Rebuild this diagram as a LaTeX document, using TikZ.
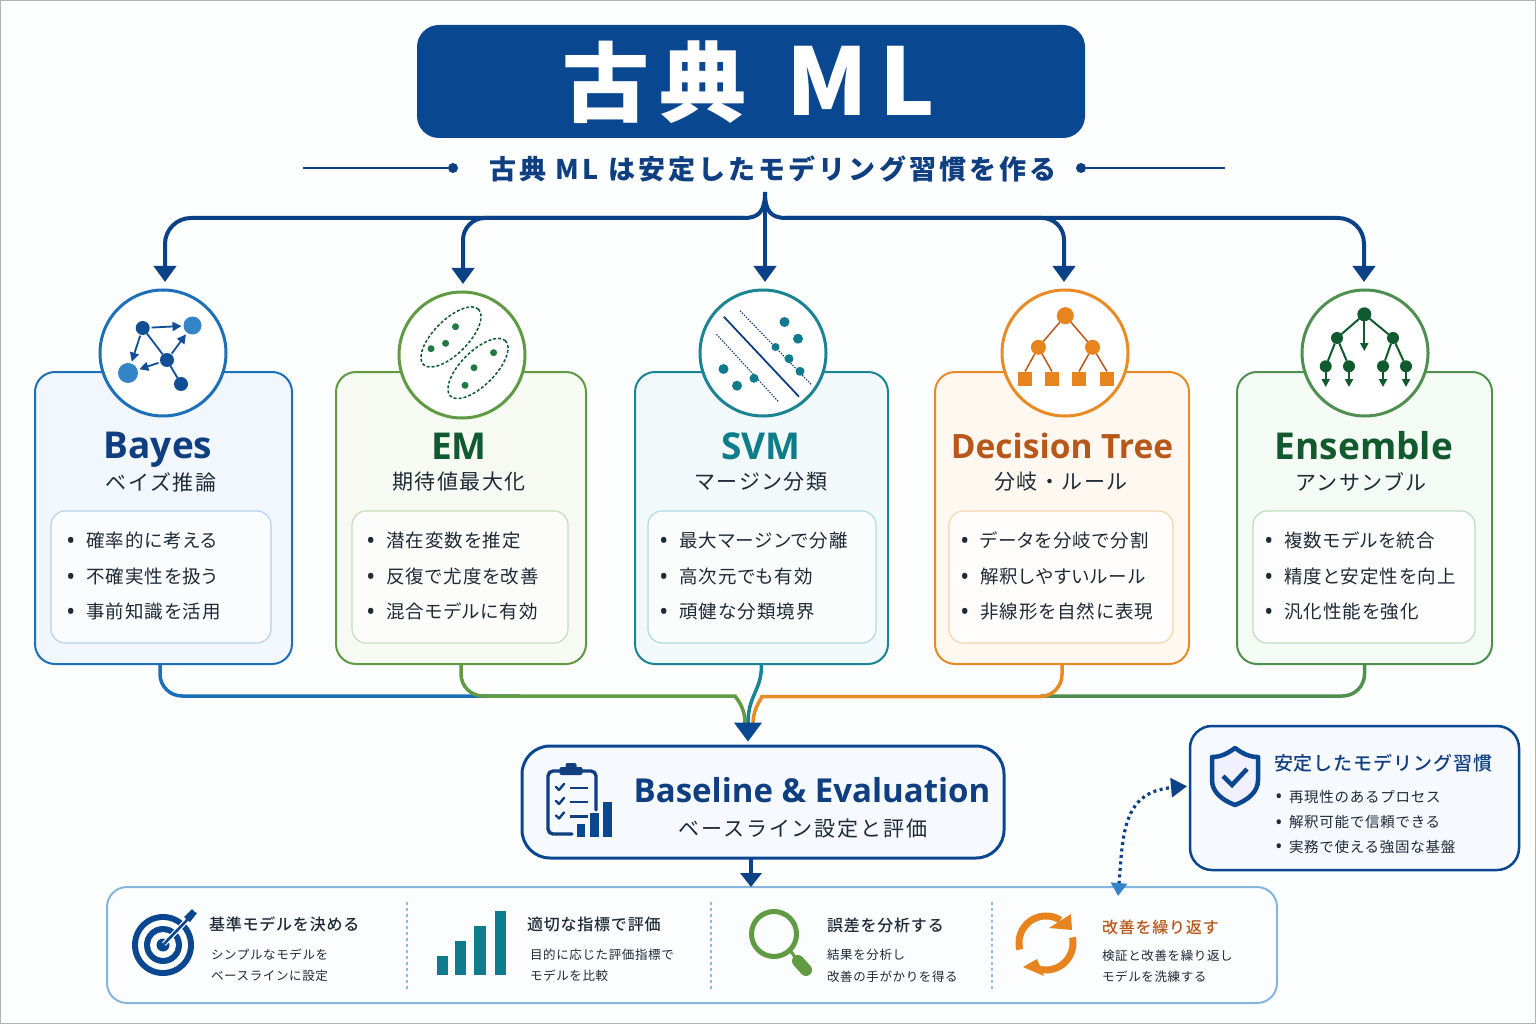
\documentclass[tikz,border=0pt]{standalone}
\usepackage{fontspec}
\usetikzlibrary{arrows.meta,shapes.geometric}
\setmainfont{Noto Sans CJK JP}
\newfontfamily\lat{Open Sans}
\newfontfamily\jpm{Noto Sans CJK JP Medium}
\newcommand\FS[2]{\fontsize{#1}{#1}\selectfont\addfontfeature{LetterSpace=#2}}
\newcommand\FP[2]{\fontsize{#1}{#1}\selectfont\addfontfeature{LetterSpace=#2,RawFeature=+palt}}
\definecolor{navy}{HTML}{0A4791}
\definecolor{tline}{HTML}{0B4186}
\definecolor{ink}{HTML}{0F3F80}
\definecolor{txt}{HTML}{1F2A37}
\definecolor{basef}{HTML}{F6F9FD}
\definecolor{aline}{HTML}{1C70BA}\definecolor{afill}{HTML}{F2F7FD}\definecolor{athin}{HTML}{B5D2EE}\definecolor{ahead}{HTML}{0F3F80}
\definecolor{bline}{HTML}{609A42}\definecolor{bfill}{HTML}{F6FAF3}\definecolor{bthin}{HTML}{C6DEB8}\definecolor{bhead}{HTML}{0F5A30}
\definecolor{cline}{HTML}{1A8494}\definecolor{cfill}{HTML}{F1F9FA}\definecolor{cthin}{HTML}{AEDBE0}\definecolor{chead}{HTML}{0F7C8A}
\definecolor{dline}{HTML}{E88B25}\definecolor{dfill}{HTML}{FEF8F1}\definecolor{dthin}{HTML}{F6D5AC}\definecolor{dhead}{HTML}{B8571A}
\definecolor{eline}{HTML}{4F8F50}\definecolor{efill}{HTML}{F4FAF4}\definecolor{ethin}{HTML}{BCDDC0}\definecolor{ehead}{HTML}{125A2E}
\definecolor{dkblue}{HTML}{114E96}\definecolor{ltblue}{HTML}{3485C8}
\definecolor{grn}{HTML}{1E7A3E}\definecolor{dkgrn}{HTML}{0F5A2E}
\definecolor{teal}{HTML}{0E7C8C}\definecolor{org}{HTML}{E8841E}
\definecolor{pagebg}{HTML}{FDFEFE}
\tikzset{
  x=1pt,y=-1pt,
  plain/.style={inner sep=0,outer sep=0},
  cardbox/.style={plain,rectangle,draw,line width=2pt,rounded corners=20pt,minimum height=292pt},
  innerbox/.style={plain,rectangle,draw,line width=1.2pt,fill=white,fill opacity=.75,rounded corners=14pt,minimum height=132pt},
  ring/.style={plain,circle,draw,line width=3pt,fill=white,minimum size=126pt},
  bigname/.style={plain,anchor=base,font=\lat\bfseries\FS{37}{0}},
  jsub/.style={plain,text=txt,font=\FS{21}{7}},
  bul/.style={plain,anchor=west,text=txt,font=\FP{18.5}{6}},
  dotnode/.style={plain,circle,fill,minimum size=#1},
  topline/.style={draw=tline,line width=4pt},
  toparrow/.style={topline,-{Triangle[width=22pt,length=16pt]},shorten >=8pt},
  mline/.style={line width=3.5pt},
  thin/.style={plain,anchor=west,text=txt,font=\FS{12.5}{5}},
  itemhead/.style={plain,anchor=west,text=txt,font=\jpm\FS{16}{5}},
  sep/.style={draw=ltblue!55,line width=1.2pt,dash pattern=on 3pt off 3pt},
  emell/.style={plain,ellipse,draw=dkgrn,line width=1.5pt,dash pattern=on 3pt off 2pt,minimum width=78pt,minimum height=34pt,rotate=45},
  iconarrow/.style={-{Triangle[width=9pt,length=9pt]}},
}
\newcommand\Dot{\raisebox{-1.8pt}{\makebox[0pt][l]{\lat\fontsize{25}{25}\selectfont •}}}
\newcommand\Card[7]{% key, card cx, w, inner cx, inner w, ring cx, ring cy
  \node[cardbox,draw=#1line,fill=#1fill,minimum width=#3 pt] (#1card) at (#2,518) {};
  \node[ring,draw=#1line] (#1ring) at (#6,#7) {};
  \node[innerbox,draw=#1thin,minimum width=#5 pt] (#1in) at (#4,577) {};
}
\newcommand\Bul[5]{% key, x, t1, t2, t3
  \node[bul] (#1b1) at (#2,541) {\makebox[20pt][l]{\Dot}#3};
  \node[bul] (#1b2) at (#2,577) {\makebox[20pt][l]{\Dot}#4};
  \node[bul] (#1b3) at (#2,612) {\makebox[20pt][l]{\Dot}#5};
}
\begin{document}
\begin{tikzpicture}
\useasboundingbox (0,0) rectangle (1536,1024);
\fill[pagebg] (0,0) rectangle (1536,1024);
\draw[black!30,line width=1.5pt] (0,0) rectangle (1536,1024);

% header
\node[plain,rectangle,fill=navy,rounded corners=22pt,minimum width=668pt,minimum height=113pt] (hdr) at (751,81.5) {};
\node[plain,text=white,font=\bfseries\FS{87}{12}] (ttl) at (748.5,82) {古典\hspace{40pt}{\FS{93}{12}ML}};
\node[plain,text=ink,font=\bfseries\FS{27}{11.5}] (sub) at (773,169) {古典 ML は安定したモデリング習慣を作る};
\coordinate (ll) at (303,168); \coordinate (rr) at (1225,168);
\node[dotnode=10pt,fill=ink] (dl) at (453,168) {};
\node[dotnode=10pt,fill=ink] (dr) at (1081,168) {};
\draw[ink,line width=1.2pt] (ll)--(dl);
\draw[ink,line width=1.2pt] (dr)--(rr);

% cards
\Card{a}{163.5}{257}{161}{220}{163}{353}
\Card{b}{461}{250}{460}{216}{462}{355}
\Card{c}{761.5}{253}{762}{228}{763}{353}
\Card{d}{1062}{254}{1061}{224}{1065}{353}
\Card{e}{1364.5}{255}{1364}{222}{1365}{353}

\node[bigname,text=ahead] (an) at (158,458) {Bayes};
\node[bigname,text=bhead] (bn) at (459,459) {EM};
\node[bigname,text=chead] (cn) at (761,459) {SVM};
\node[bigname,text=dhead,font=\lat\bfseries\FS{33.5}{0}] (dn) at (1062,458) {Decision Tree};
\node[bigname,text=ehead] (en) at (1364,459) {Ensemble};
\node[jsub] (as) at (161,482) {ベイズ推論};
\node[jsub] (bs) at (459,482) {期待値最大化};
\node[jsub] (cs) at (761,482) {マージン分類};
\node[jsub] (ds) at (1061,482) {分岐・ルール};
\node[jsub] (es) at (1361,482) {アンサンブル};
\Bul{a}{66}{確率的に考える}{不確実性を扱う}{事前知識を活用}
\Bul{b}{366}{潜在変数を推定}{反復で尤度を改善}{混合モデルに有効}
\Bul{c}{659}{最大マージンで分離}{高次元でも有効}{頑健な分類境界}
\Bul{d}{960}{データを分岐で分割}{解釈しやすいルール}{非線形を自然に表現}
\Bul{e}{1264}{複数モデルを統合}{精度と安定性を向上}{汎化性能を強化}

% top connectors
\coordinate (hub) at (765,192);
\coordinate (hubL) at (744,218);
\coordinate (hubR) at (786,218);
\draw[topline] (hub) .. controls (765,210) and (760,218) .. (hubL);
\draw[topline] (hub) .. controls (765,210) and (770,218) .. (hubR);
\draw[toparrow,rounded corners=26pt] (hubL) -| ([xshift=2pt]aring.north);
\draw[toparrow,rounded corners=22pt] (hubL) -| ([xshift=1pt]bring.north);
\draw[toparrow] (hub) -- ([xshift=2pt]cring.north);
\draw[toparrow,rounded corners=22pt] (hubR) -| ([xshift=-1pt]dring.north);
\draw[toparrow,rounded corners=26pt] (hubR) -| ([xshift=-1pt]ering.north);

% bayes icon
\begin{scope}[every node/.style={plain,circle,fill}]
\node[fill=dkblue,minimum size=14pt] (n1) at (142.7,328) {};
\node[fill=ltblue,minimum size=18pt] (n2) at (192.5,325.5) {};
\node[fill=dkblue,minimum size=14pt] (n3) at (167,360) {};
\node[fill=ltblue,minimum size=20pt] (n4) at (128,373) {};
\node[fill=dkblue,minimum size=14pt] (n5) at (181,384) {};
\end{scope}
\begin{scope}[dkblue,line width=1.8pt]
\draw[iconarrow,shorten >=2pt,shorten <=2pt] (n1)--(n2);
\draw[iconarrow,shorten >=2pt,shorten <=1pt] (n1)--(n4);
\draw (n1)--(n3);
\draw[iconarrow,shorten >=2pt,shorten <=1pt] (n3)--(n2);
\draw[iconarrow,shorten >=2pt,shorten <=2pt] (n3)--(n4);
\draw (n3)--(n5);
\end{scope}

% EM icon
\node[emell] (e1) at (451,337) {};
\node[emell] (e2) at (478,368.5) {};
\foreach \n/\p in {1/{455.5,326.7},2/{445.6,343.3},3/{431,348.7},4/{493.6,352.7},5/{474,367.7},6/{465,385.3}}
  \node[dotnode=7pt,fill=grn] (ed\n) at (\p) {};

% SVM icon
\coordinate (s1a) at (723.8,316.7); \coordinate (s1b) at (799,396.7);
\coordinate (s2a) at (740,310.7); \coordinate (s2b) at (811,384.3);
\coordinate (s3a) at (716.5,334.3); \coordinate (s3b) at (779,402.3);
\draw[ink,line width=1.8pt] (s1a)--(s1b);
\draw[ink,line width=1.1pt,dash pattern=on 1.5pt off 1.3pt] (s2a)--(s2b);
\draw[ink,line width=1.1pt,dash pattern=on 1.5pt off 1.3pt] (s3a)--(s3b);
\foreach \n/\p/\s in {1/{784.5,322}/10,2/{798,338.7}/10,3/{775.5,347}/8,4/{789,358.7}/9,5/{800,371.3}/9,6/{723.5,369}/10,7/{737,385.7}/10,8/{754,378.3}/9}
  \node[dotnode=\s pt,fill=teal] (sd\n) at (\p) {};

% tree icon
\node[dotnode=17pt,fill=org] (t0) at (1065.3,315.7) {};
\node[dotnode=15pt,fill=org] (t1) at (1038.4,347.3) {};
\node[dotnode=15pt,fill=org] (t2) at (1092.5,347.3) {};
\foreach \n/\x in {1/1025,2/1052,3/1079,4/1107}
  \node[plain,rectangle,fill=org,minimum size=14pt] (q\n) at (\x,378.5) {};
\draw[dhead,line width=1.5pt] (t0)--(t1);
\draw[dhead,line width=1.5pt] (t0)--(t2);
\draw[dhead,line width=1.5pt] (t1)--(q1.north);
\draw[dhead,line width=1.5pt] (t1)--(q2.north);
\draw[dhead,line width=1.5pt] (t2)--(q3.north);
\draw[dhead,line width=1.5pt] (t2)--(q4.north);

% ensemble icon
\node[dotnode=14pt,fill=dkgrn] (r0) at (1364.3,314.3) {};
\node[dotnode=12pt,fill=dkgrn] (r1) at (1337,338) {};
\node[dotnode=12pt,fill=dkgrn] (r2) at (1393,338) {};
\foreach \n/\x in {3/1325.7,4/1349,5/1383,6/1406}{
  \node[dotnode=12pt,fill=dkgrn] (r\n) at (\x,366.3) {};
  \coordinate (z\n) at (\x,387);
  \draw[dkgrn,line width=2pt,-{Triangle[width=8pt,length=8pt]}] (r\n)--(z\n);
}
\coordinate (z0) at (1364.3,351);
\draw[dkgrn,line width=2pt,-{Triangle[width=8pt,length=8pt]}] (r0)--(z0);
\draw[dkgrn,line width=2pt] (r0)--(r1);
\draw[dkgrn,line width=2pt] (r0)--(r2);
\draw[dkgrn,line width=2pt] (r1)--(r3);
\draw[dkgrn,line width=2pt] (r1)--(r4);
\draw[dkgrn,line width=2pt] (r2)--(r5);
\draw[dkgrn,line width=2pt] (r2)--(r6);

% baseline box
\node[plain,rectangle,draw=navy,fill=basef,line width=3pt,rounded corners=28pt,minimum width=482pt,minimum height=112pt] (base) at (763,802) {};
\node[plain,text=ink,font=\lat\bfseries\FS{33}{0}] (baset) at (812,790) {Baseline \& Evaluation};
\node[jsub,font=\FS{21}{9}] (bases) at (803,829) {ベースライン設定と評価};
% merging connectors
\coordinate (mm) at (748,722);
\draw[aline,mline,rounded corners=22pt] ([xshift=-3.5pt]acard.south) |- (520,696);
\draw[eline,mline,rounded corners=22pt] (ecard.south) |- (1040,696);
\draw[bline,mline,rounded corners=22pt] (bcard.south) |- (713,696) .. controls (734,696) and (745,705) .. (745,723);
\draw[dline,mline,rounded corners=22pt] (dcard.south) |- (784,696.5) .. controls (763,696.5) and (753,708) .. (753,723);
\draw[cline,mline] (ccard.south) .. controls (762,690) and (748,695) .. (748,723);
\draw[navy,line width=1pt,-{Triangle[width=28pt,length=19pt]},shorten >=4.5pt] (mm) -- (mm |- base.north);

% clipboard icon
\begin{scope}[ink,line width=3.4pt,line cap=round,line join=round]
\draw[rounded corners=5pt] (596,810)--(596,771)--(582,771);
\draw[rounded corners=5pt] (560,771)--(548,771)--(548,834)--(572,834);
\node[plain,rectangle,fill=ink,rounded corners=2pt,minimum width=23pt,minimum height=8pt] (clip) at (571,771) {};
\node[plain,rectangle,fill=ink,rounded corners=2pt,minimum width=11pt,minimum height=6pt] (clipt) at (571,766) {};
\foreach \y in {788,802,816.5}{
  \draw[line width=2.4pt] (556,\y-1)--(559,\y+2)--(564,\y-4);
  \draw[line width=2.8pt,line cap=butt] (570,\y)--(588,\y);
}
\end{scope}
\fill[navy] (576.7,824) rectangle (585,837);
\fill[navy] (590,813) rectangle (598.7,837);
\fill[navy] (603,801.5) rectangle (612,837);

% side box
\node[plain,rectangle,draw=navy,fill=basef,line width=2.5pt,rounded corners=22pt,minimum width=329pt,minimum height=144pt] (side) at (1354.5,798) {};
\draw[navy,line width=4.5pt,fill=blue!6,line join=round] (1235,748) .. controls (1227,754) and (1220,757) .. (1212,757) -- (1212,780) .. controls (1212,792) and (1222,800) .. (1235,805) .. controls (1248,800) and (1258,792) .. (1258,780) -- (1258,757) .. controls (1250,757) and (1243,754) .. (1235,748) -- cycle;
\draw[navy,line width=4.5pt] (1223,776)--(1232,785)--(1247,769);
\node[plain,anchor=west,text=ink,font=\jpm\FS{19}{5}] (sh) at (1274,763) {安定したモデリング習慣};
\foreach \n/\y/\t in {1/797/再現性のあるプロセス,2/822.5/解釈可能で信頼できる,3/847/実務で使える強固な基盤}
  \node[plain,anchor=west,text=txt,font=\FS{14.5}{5}] (sb\n) at (1275,\y) {\makebox[14pt][l]{\raisebox{-1.3pt}{\lat\fontsize{20}{20}\selectfont •}}\t};

% bottom panel
\node[plain,rectangle,draw=ltblue!60,fill=white!70!afill,line width=2pt,rounded corners=20pt,minimum width=1170pt,minimum height=116pt] (panel) at (692,945) {};
\draw[tline,line width=4pt,-{Triangle[width=21pt,length=14pt]}] ([xshift=-12pt]base.south) -- ([xshift=59pt]panel.north);

% dotted link
\coordinate (dnn) at (1118,896);
\draw[tline,line width=3.2pt,dash pattern=on 3pt off 3.5pt,shorten >=3pt,{Triangle[width=16pt,length=13pt,color=ltblue]}-{Triangle[width=19pt,length=16pt]}] (dnn) .. controls (1123,835) and (1122,792) .. ([yshift=12pt]side.west);

% separators
\foreach \n/\x in {1/407,2/711,3/992}{
  \coordinate (sa\n) at (\x,902); \coordinate (sb\n) at (\x,990);
  \draw[sep] (sa\n)--(sb\n);
}
% target icon
\node[dotnode=62pt,fill=navy] (g1) at (163,945) {};
\node[dotnode=50pt,fill=white] (g2) at (163,945) {};
\node[dotnode=38pt,fill=navy] (g3) at (163,945) {};
\node[dotnode=26pt,fill=white] (g4) at (163,945) {};
\node[dotnode=13pt,fill=navy] (g5) at (163,945) {};
\coordinate (ga) at (188,919);
\draw[white,line width=5pt] (164,944)--(ga);
\draw[navy,line width=2.6pt] (164,944)--(ga);
\fill[navy] (184,917)--(192,909)--(195,912)--(197,913)--(190,922)--cycle;
\node[itemhead] (i1) at (209,924) {基準モデルを決める};
\node[thin] (i1a) at (211,955) {シンプルなモデルを};
\node[thin] (i1b) at (211,976) {ベースラインに設定};

% bars icon
\fill[teal] (437,955.7) rectangle (448,975);
\fill[teal] (455,941) rectangle (466,975);
\fill[teal] (474,925.7) rectangle (486,975);
\fill[teal] (494.6,910.7) rectangle (506,975);
\node[itemhead] (i2) at (527,924) {適切な指標で評価};
\node[thin] (i2a) at (530,955) {目的に応じた評価指標で};
\node[thin] (i2b) at (530,976) {モデルを比較};

% magnifier
\node[plain,circle,draw=bline,line width=5pt,minimum size=45pt] (mg) at (774,934) {};
\coordinate (mh1) at (797,960); \coordinate (mh2) at (806,970);
\draw[bline,line width=3pt] (mg) ++(16,16) -- (mh1);
\draw[bline,line width=12pt,line cap=round] (798,961)--(mh2);
\node[itemhead] (i3) at (827,925) {誤差を分析する};
\node[thin] (i3a) at (827,955) {結果を分析し};
\node[thin] (i3b) at (827,977) {改善の手がかりを得る};

% refresh icon
\draw[org,line width=7pt] plot[smooth,domain=194:58,samples=30] ({1046+27*cos(\x)},{943-27*sin(\x)});
\fill[org] (1071,914)--(1072,930)--(1049,928)--cycle;
\draw[org,line width=7pt] plot[smooth,domain=12:-122,samples=30] ({1046+27*cos(\x)},{943-27*sin(\x)});
\fill[org] (1037,959)--(1023,967)--(1044,976)--cycle;
\node[itemhead,text=dhead] (i4) at (1102,927) {改善を繰り返す};
\node[thin] (i4a) at (1102,956) {検証と改善を繰り返し};
\node[thin] (i4b) at (1102,977) {モデルを洗練する};
\end{tikzpicture}
\end{document}
